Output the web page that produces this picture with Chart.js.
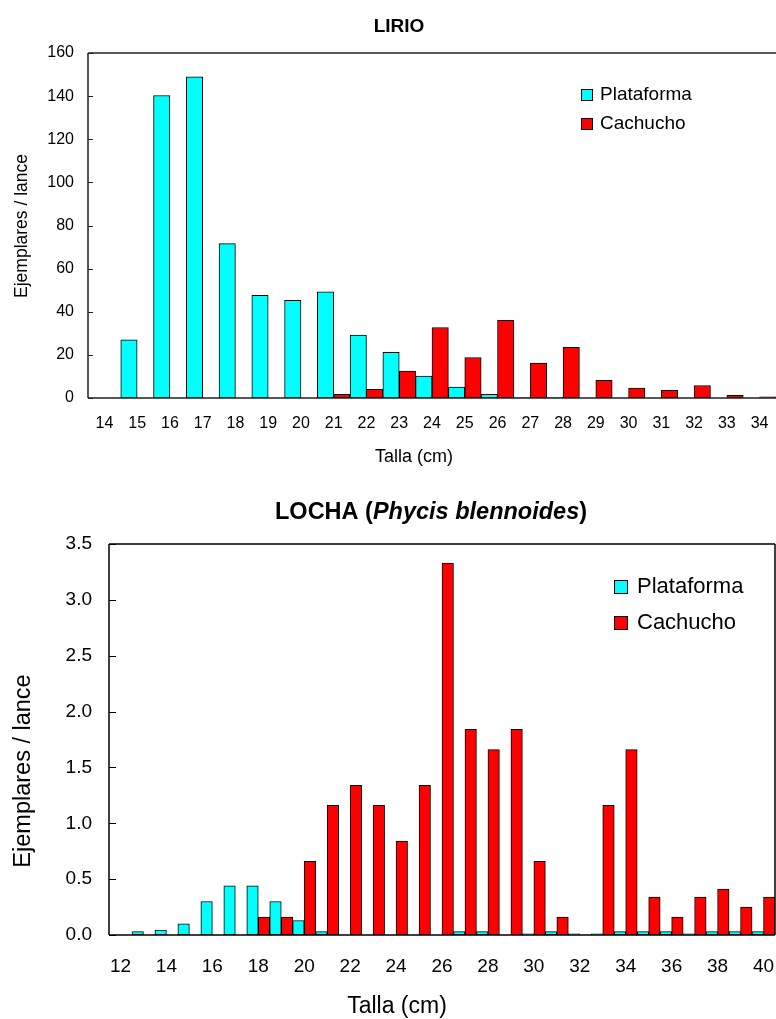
<!DOCTYPE html>
<html>
<head>
<meta charset="utf-8">
<script src="https://cdn.jsdelivr.net/npm/chart.js@4.4.1/dist/chart.umd.min.js"></script>
<style>
  body { margin: 0; background: #fff; }
  #wrap { position: relative; width: 776px; height: 1019px; }
  canvas { position: absolute; left: 0; }
  #lirio { top: 0; }
  #locha { top: 475px; }
</style>
</head>
<body>
<div id="wrap">
  <canvas id="lirio" width="776" height="475"></canvas>
  <canvas id="locha" width="776" height="544"></canvas>
</div>
<script>
const FONT = 'Arial, "Liberation Sans", sans-serif';

// LIRIO
const lirioTallas = ["14", "15", "16", "17", "18", "19", "20", "21", "22", "23", "24",
  "25", "26", "27", "28", "29", "30", "31", "32", "33", "34"];
const lirioPlataforma = [0, 27, 140.3, 148.9, 71.6, 47.6, 45.3, 49.2, 29.2, 21.2, 10.2,
  5.1, 1.7, 0.3, 0.3, 0, 0, 0, 0, 0, 0];
const lirioCachucho = [0, 0, 0, 0, 0, 0, 0, 1.7, 4.0, 12.5, 32.7,
  18.8, 36.0, 16.2, 23.5, 8.2, 4.6, 3.5, 5.8, 1.2, 0.6];

// LOCHA (Phycis blennoides)
const lochaTallas = ["12", "13", "14", "15", "16", "17", "18", "19", "20", "21", "22",
  "23", "24", "25", "26", "27", "28", "29", "30", "31", "32", "33", "34", "35", "36",
  "37", "38", "39", "40"];
const lochaPlataforma = [0, 0.03, 0.045, 0.1, 0.3, 0.44, 0.44, 0.3, 0.13, 0.03, 0,
  0, 0, 0, 0, 0.03, 0.03, 0, 0.01, 0.03, 0.01, 0.01, 0.03, 0.03, 0.03,
  0.01, 0.03, 0.03, 0.03];
const lochaCachucho = [0, 0, 0, 0, 0, 0, 0.16, 0.16, 0.66, 1.16, 1.34,
  1.16, 0.84, 1.34, 3.33, 1.84, 1.66, 1.84, 0.66, 0.16, 0, 1.16, 1.66, 0.34, 0.16,
  0.34, 0.41, 0.25, 0.34];

const seriesNames = ["Plataforma", "Cachucho"];
const seriesColors = ["#00FFFF", "#FF0000"];

// frame round the plot and small ticks pointing into it
const framePlugin = {
  id: "frame",
  afterDatasetsDraw(chart, args, opts) {
    const { ctx, chartArea: a } = chart;
    const y = chart.scales.y;
    ctx.save();
    ctx.strokeStyle = opts.color;
    ctx.lineWidth = opts.width;
    ctx.beginPath();
    if (opts.sides.includes("left")) { ctx.moveTo(a.left, a.top); ctx.lineTo(a.left, a.bottom); }
    if (opts.sides.includes("top")) { ctx.moveTo(a.left, a.top); ctx.lineTo(a.right, a.top); }
    if (opts.sides.includes("right")) { ctx.moveTo(a.right, a.top); ctx.lineTo(a.right, a.bottom); }
    if (opts.sides.includes("bottom")) { ctx.moveTo(a.left, a.bottom); ctx.lineTo(a.right, a.bottom); }
    ctx.stroke();
    ctx.lineWidth = 1;
    ctx.beginPath();
    y.ticks.forEach((t) => {
      const py = Math.round(y.getPixelForValue(t.value)) + 0.5;
      ctx.moveTo(a.left, py);
      ctx.lineTo(a.left + opts.tickLen, py);
    });
    ctx.stroke();
    ctx.restore();
  },
};

// legend inside the plot
const boxLegendPlugin = {
  id: "boxLegend",
  afterDraw(chart, args, opts) {
    const ctx = chart.ctx;
    ctx.save();
    ctx.font = opts.font;
    ctx.textBaseline = "middle";
    chart.data.datasets.forEach((ds, i) => {
      const cy = opts.y + i * opts.gap;
      ctx.fillStyle = ds.backgroundColor;
      ctx.fillRect(opts.x, cy - opts.box / 2, opts.box, opts.box);
      ctx.strokeStyle = "#000";
      ctx.lineWidth = 1;
      ctx.strokeRect(opts.x + 0.5, cy - opts.box / 2 + 0.5, opts.box - 1, opts.box - 1);
      ctx.fillStyle = "#000";
      ctx.fillText(ds.label, opts.x + opts.box + opts.textGap, cy);
    });
    ctx.restore();
  },
};

// titles and axis titles
const textsPlugin = {
  id: "texts",
  afterDraw(chart, args, opts) {
    const ctx = chart.ctx;
    ctx.save();
    ctx.fillStyle = "#000";
    ctx.textBaseline = "middle";
    opts.items.forEach((it) => {
      ctx.save();
      ctx.translate(it.x, it.y);
      if (it.rotate) ctx.rotate(it.rotate);
      if (it.parts) {
        let px = 0;
        it.parts.forEach((p) => {
          ctx.font = p.font;
          ctx.textAlign = "left";
          ctx.fillText(p.text, px, 0);
          px += ctx.measureText(p.text).width;
        });
      } else {
        ctx.font = it.font;
        ctx.textAlign = "center";
        ctx.fillText(it.text, 0, 0);
      }
      ctx.restore();
    });
    ctx.restore();
  },
};

const makeDatasets = (a, b) =>
  [a, b].map((v, i) => ({
    label: seriesNames[i],
    data: v,
    backgroundColor: seriesColors[i],
    borderColor: "#000",
    borderWidth: 1,
    borderSkipped: false,
    categoryPercentage: 1.0,
    barPercentage: 1.0,
  }));

// fixed axis sizes, no extra padding for overflowing labels
const fixX = (h) => (s) => { s.height = h; s.paddingLeft = 0; s.paddingRight = 0; };
const fixY = (w) => (s) => { s.width = w; s.paddingTop = 0; s.paddingBottom = 0; };

new Chart(document.getElementById("lirio"), {
  type: "bar",
  data: { labels: lirioTallas, datasets: makeDatasets(lirioPlataforma, lirioCachucho) },
  plugins: [framePlugin, boxLegendPlugin, textsPlugin],
  options: {
    responsive: false,
    animation: false,
    devicePixelRatio: 1,
    layout: { padding: { top: 53, left: 0, right: 0, bottom: 0 } },
    scales: {
      x: {
        grid: { display: false, drawTicks: false },
        border: { display: false },
        ticks: { color: "#000", font: { family: FONT, size: 16 }, padding: 16, maxRotation: 0, autoSkip: false },
        afterFit: fixX(77),
      },
      y: {
        min: 0, max: 160,
        grid: { display: false, drawTicks: false },
        border: { display: false },
        ticks: { stepSize: 20, color: "#000", font: { family: FONT, size: 16 }, padding: 14 },
        afterFit: fixY(88),
      },
    },
    plugins: {
      legend: { display: false },
      title: { display: false },
      tooltip: { enabled: false },
      frame: { sides: ["left", "top", "bottom"], color: "#222", width: 1.5, tickLen: 5 },
      boxLegend: { x: 581, y: 95, gap: 29, box: 12, textGap: 7, font: "19px " + FONT },
      texts: {
        items: [
          { text: "LIRIO", x: 399, y: 27, font: "bold 19px " + FONT },
          { text: "Ejemplares / lance", x: 22, y: 226, rotate: -Math.PI / 2, font: "17.5px " + FONT },
          { text: "Talla (cm)", x: 414, y: 457, font: "18px " + FONT },
        ],
      },
    },
  },
});

new Chart(document.getElementById("locha"), {
  type: "bar",
  data: { labels: lochaTallas, datasets: makeDatasets(lochaPlataforma, lochaCachucho) },
  plugins: [framePlugin, boxLegendPlugin, textsPlugin],
  options: {
    responsive: false,
    animation: false,
    devicePixelRatio: 1,
    layout: { padding: { top: 69, left: 0, right: 1, bottom: 0 } },
    scales: {
      x: {
        grid: { display: false, drawTicks: false },
        border: { display: false },
        ticks: {
          color: "#000", font: { family: FONT, size: 19 }, padding: 20, maxRotation: 0, autoSkip: false,
          callback: (v, i) => (i % 2 === 0 ? lochaTallas[i] : ""),
        },
        afterFit: fixX(84),
      },
      y: {
        min: 0, max: 3.5,
        grid: { display: false, drawTicks: false },
        border: { display: false },
        ticks: { stepSize: 0.5, color: "#000", font: { family: FONT, size: 19 }, padding: 17,
          callback: (v) => v.toFixed(1) },
        afterFit: fixY(109),
      },
    },
    plugins: {
      legend: { display: false },
      title: { display: false },
      tooltip: { enabled: false },
      frame: { sides: ["left", "top", "right", "bottom"], color: "#000", width: 1.5, tickLen: 7 },
      boxLegend: { x: 614, y: 112, gap: 36, box: 14, textGap: 9, font: "22px " + FONT },
      texts: {
        items: [
          { x: 275, y: 38, parts: [
            { text: "LOCHA (", font: "bold 23.5px " + FONT },
            { text: "Phycis blennoides", font: "italic bold 23.5px " + FONT },
            { text: ")", font: "bold 23.5px " + FONT },
          ] },
          { text: "Ejemplares / lance", x: 24, y: 296, rotate: -Math.PI / 2, font: "23.5px " + FONT },
          { text: "Talla (cm)", x: 397, y: 532, font: "23px " + FONT },
        ],
      },
    },
  },
});
</script>
</body>
</html>
